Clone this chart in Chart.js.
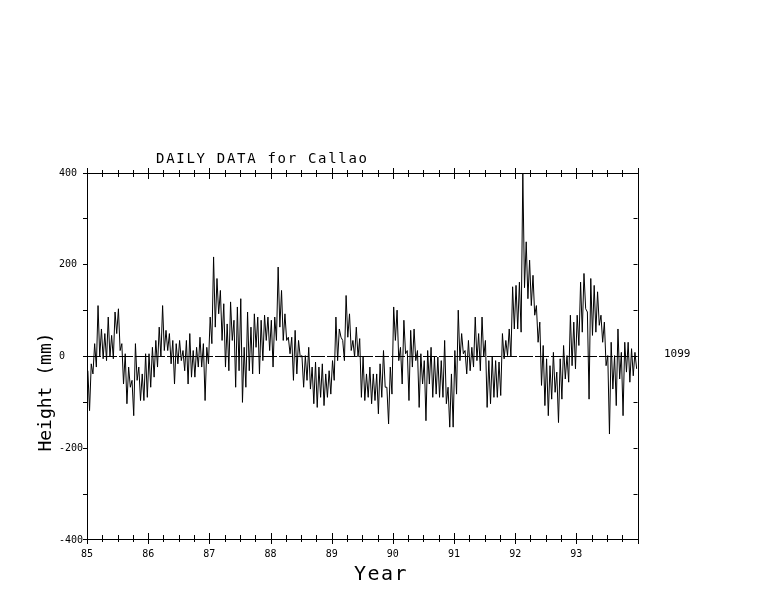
<!DOCTYPE html>
<html>
<head>
<meta charset="utf-8">
<script src="https://cdn.jsdelivr.net/npm/chart.js@4.4.0/dist/chart.umd.min.js"></script>
<style>
  html, body { margin: 0; background: #fff; }
  #wrap { width: 768px; height: 593px; }
</style>
</head>
<body>
<div id="wrap"><canvas id="c" width="768" height="593"></canvas></div>
<script>
const years = [85, 86, 87, 88, 89, 90, 91, 92, 93];
const h85 = [-31,-118, -16,-38, 28,-23, 111,-1, 60,-5, 50,-9, 86,-1, 46,-5, 97,50, 104,13, 28,-60, 6,-103, -23,-67, -52,-129, 28,-52, -23,-96, -38,-96, 6,-89];
const h86 = [6,-67, 20,-45, 35,-23, 64,-1, 111,13, 57,13, 50,-16, 35,-60, 28,-16, 35,-9, 13,-31, 35,-60, 50,-45, 13,-45, 20,-23, 42,-23, 28,-96, 20,-16];
const h87 = [86,28, 217,64, 170,93, 144,35, 115,-23, 71,-31, 119,35, 79,-67, 108,-31, 126,-100, 20,-67, 97,-31, 64,-38, 93,20, 86,-38, 79,-9, 90,35, 86,13];
const h88 = [79,-23, 86,35, 195,64, 144,35, 93,35, 42,6, 42,-52, 57,-38, 35,-1, 2,-67, 2,-52, 20,-71, -23,-103, -12,-111, -23,-89, -16,-107, -38,-89, -31,-82];
const h89 = [-9,-52, 86,-9, 60,42, 35,-9, 133,42, 93,13, 35,-1, 64,-1, 39,-89, -1,-96, -38,-89, -23,-103, -38,-96, -38,-125, -16,-89, 13,-67, -67,-147, -23,-82];
const h90 = [108,35, 101,-9, 20,-60, 79,6, 13,-96, 57,-23, 60,-9, 13,-111, 6,-60, -9,-140, 13,-60, 20,-89, -1,-82, -1,-89, -9,-89, 35,-103, -67,-154, -38,-154];
const h91 = [13,-82, 101,-9, 50,6, 13,-38, 35,-31, 20,-23, 86,-9, 50,-31, 86,-1, 35,-111, -9,-103, -1,-89, -9,-89, -12,-85, 50,-5, 35,2, 60,-1, 152,60];
const h92 = [155,60, 162,53, 400,150, 250,126, 210,111, 177,90, 111,31, 75,-63, 24,-107, -5,-129, -20,-93, 9,-78, -34,-144, -5,-93, 24,-49, 2,-56, 90,-20, 75,-27];
const h93 = [90,24, 162,53, 181,104, 97,-93, 170,46, 155,53, 141,68, 90,31, 75,-20, 2,-169, 31,-71, 2,-107, 60,-49, 9,-129, 31,-34, 31,-56, 17,-42, 9,-27];

const yMin = -400, yMax = 400;
const titleText = 'DAILY DATA for Callao';
const countText = '1099';

const perYear = [h85, h86, h87, h88, h89, h90, h91, h92, h93];
const trace = [];
perYear.forEach((arr, i) => {
    arr.forEach((v, j) => trace.push({ x: years[i] + (j + 0.5) / arr.length, y: v }));
});
const zeroLine = [{ x: 85, y: 0 }, { x: 94, y: 0 }];

const mono = "'DejaVu Sans Mono', monospace";

const frame = {
    id: 'frame',
    afterDraw(chart) {
        const { ctx, chartArea: a, scales: { x, y } } = chart;
        ctx.save();
        ctx.strokeStyle = '#000';
        ctx.lineWidth = 1;
        ctx.strokeRect(Math.round(a.left) + 0.5, Math.round(a.top) + 0.5,
            Math.round(a.right - a.left), Math.round(a.bottom - a.top) - 1);

        ctx.beginPath();
        const bot = Math.round(a.bottom) - 1, top = Math.round(a.top);
        for (let q = 85; q <= 94.001; q += 0.25) {
            const px = Math.round(x.getPixelForValue(q)) + 0.5;
            const major = Math.abs(q - Math.round(q)) < 0.01;
            const up = major ? 6 : 4, dn = major ? 5 : 3;
            ctx.moveTo(px, bot - up); ctx.lineTo(px, bot + dn);
            ctx.moveTo(px, top - dn); ctx.lineTo(px, top + up);
        }
        for (let v = yMin; v <= yMax; v += 100) {
            const py = Math.min(Math.floor(y.getPixelForValue(v)), bot) + 0.5;
            ctx.moveTo(a.left - 4, py); ctx.lineTo(a.left, py);
            ctx.moveTo(a.right - 4, py); ctx.lineTo(a.right, py);
        }
        ctx.stroke();

        ctx.fillStyle = '#000';
        ctx.textBaseline = 'alphabetic';
        ctx.font = '14px ' + mono;
        ctx.letterSpacing = '1.7px';
        ctx.textAlign = 'left';
        ctx.fillText(titleText, 156, 163);

        ctx.letterSpacing = '0px';
        ctx.font = '11px ' + mono;
        ctx.fillText(countText, 664, 357);

        ctx.font = '20px ' + mono;
        ctx.letterSpacing = '1.5px';
        ctx.textAlign = 'center';
        ctx.fillText('Year', 381, 580);

        ctx.font = '18px ' + mono;
        ctx.letterSpacing = '0px';
        ctx.translate(51, 392);
        ctx.rotate(-Math.PI / 2);
        ctx.fillText('Height (mm)', 0, 0);
        ctx.restore();
    }
};

new Chart(document.getElementById('c'), {
    type: 'line',
    data: {
        datasets: [
            {
                data: trace,
                borderColor: '#000',
                borderWidth: 1,
                pointRadius: 0,
                tension: 0,
                fill: false
            },
            {
                data: zeroLine,
                borderColor: '#000',
                borderWidth: 1,
                borderDash: [14, 2],
                pointRadius: 0,
                fill: false
            }
        ]
    },
    options: {
        responsive: false,
        animation: false,
        devicePixelRatio: 1,
        layout: { padding: { top: 173, right: 130.5, left: 0, bottom: 0 } },
        plugins: {
            legend: { display: false },
            tooltip: { enabled: false },
            title: { display: false }
        },
        scales: {
            x: {
                type: 'linear',
                min: 85,
                max: 94,
                grid: { display: false, drawTicks: false },
                border: { display: false },
                ticks: {
                    stepSize: 1,
                    autoSkip: false,
                    maxRotation: 0,
                    padding: 8,
                    color: '#000',
                    font: { family: mono, size: 10 },
                    callback: v => (v < 94 ? String(v) : '')
                },
                afterFit: s => { s.height = 53; }
            },
            y: {
                min: yMin,
                max: yMax,
                grid: { display: false, drawTicks: false },
                border: { display: false },
                ticks: {
                    stepSize: 200,
                    padding: 4,
                    crossAlign: 'near',
                    color: '#000',
                    font: { family: mono, size: 10 },
                    callback: v => String(v).padEnd(4, ' ')
                },
                afterFit: s => { s.width = 87; }
            }
        }
    },
    plugins: [frame]
});
</script>
</body>
</html>
